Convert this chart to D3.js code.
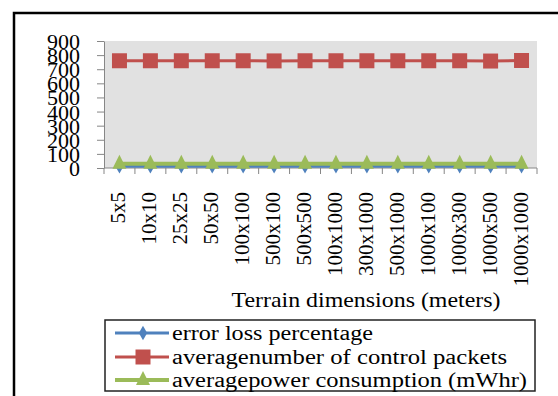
<!DOCTYPE html>
<html>
<head>
<meta charset="utf-8">
<script src="https://cdn.jsdelivr.net/npm/d3@7"></script>
<style>
  html, body { margin: 0; padding: 0; background: #fff; }
  svg { display: block; }
  text { font-family: "Liberation Serif", "Times New Roman", serif; fill: #000; }
</style>
</head>
<body>
<svg id="chart" width="558" height="396"></svg>
<script>
// Terrain sizes tested (x categories)
const terrains = ["5x5", "10x10", "25x25", "50x50", "100x100", "500x100", "500x500",
  "100x1000", "300x1000", "500x1000", "1000x100", "1000x300", "1000x500", "1000x1000"];

// Measured series
const errorLoss    = [12, 12, 12, 12, 12, 12, 12, 12, 12, 12, 12, 12, 12, 12];
const controlPkts  = [760, 760, 760, 760, 760, 759, 760, 760, 760, 760, 760, 760, 758, 762];
const powerUse     = [30, 30, 30, 30, 30, 30, 30, 30, 30, 30, 30, 30, 30, 30];

const yTicks = [0, 100, 200, 300, 400, 500, 600, 700, 800, 900];

const seriesNames = ["error loss percentage", "averagenumber of control packets",
  "averagepower consumption (mWhr)"];
const seriesColors = ["#4f81bd", "#c0504d", "#9bbb59"];
const seriesShapes = ["diamond", "square", "triangle"];

const series = [errorLoss, controlPkts, powerUse].map((vals, i) => ({
  name: seriesNames[i], color: seriesColors[i], shape: seriesShapes[i], values: vals
}));

const svg = d3.select("#chart");

// outer frame
svg.append("rect")
  .attr("x", 14).attr("y", 13).attr("width", 600).attr("height", 420)
  .attr("fill", "none").attr("stroke", "#000").attr("stroke-width", 2.5);

const plot = { left: 104, right: 537, top: 41, bottom: 168 };

const x = d3.scaleBand().domain(terrains).range([plot.left, plot.right]);
const y = d3.scaleLinear().domain([0, 900]).range([plot.bottom, plot.top]);

// plot background
svg.append("rect")
  .attr("x", plot.left).attr("y", plot.top)
  .attr("width", plot.right - plot.left).attr("height", plot.bottom - plot.top)
  .attr("fill", "#e1e1e1");

// y axis (large labels set tightly on the 100-step ticks)
const yAxis = svg.append("g").attr("transform", `translate(${plot.left},0)`)
  .call(d3.axisLeft(y).tickValues(yTicks).tickSize(7).tickSizeOuter(0).tickFormat(""));
yAxis.selectAll("path, line").attr("stroke", "#868686");
yAxis.selectAll(".tick").append("text")
  .attr("x", -24)
  .attr("text-anchor", "end")
  .attr("dominant-baseline", "central")
  .attr("font-size", 22)
  .text(d => d);

// x axis with ticks at category boundaries
const xAxisG = svg.append("g").attr("transform", `translate(0,${plot.bottom})`);
xAxisG.append("line")
  .attr("x1", plot.left).attr("x2", plot.right)
  .attr("stroke", "#868686");
const bounds = terrains.map(t => x(t)).concat([plot.right]);
xAxisG.selectAll("line.tick").data(bounds).join("line")
  .attr("class", "tick")
  .attr("x1", d => d).attr("x2", d => d).attr("y1", 0).attr("y2", 6)
  .attr("stroke", "#868686");
xAxisG.selectAll("text.lbl").data(terrains).join("text")
  .attr("class", "lbl")
  .attr("transform", d => `translate(${x(d) + x.bandwidth() / 2 - 1},24) rotate(-90)`)
  .attr("text-anchor", "end")
  .attr("dominant-baseline", "central")
  .attr("font-size", 21)
  .text(d => d);

// axis title
svg.append("text")
  .attr("x", 366).attr("y", 307)
  .attr("text-anchor", "middle")
  .attr("font-size", 22)
  .attr("textLength", 269).attr("lengthAdjust", "spacingAndGlyphs")
  .text("Terrain dimensions (meters)");

// marker shapes
function markerPath(shape) {
  if (shape === "diamond") return d3.symbol(d3.symbolDiamond, 60)();
  if (shape === "square") return "M-7.5,-7.5H7.5V7.5H-7.5Z";
  return "M0,-9L7,5H-7Z";
}
const lineWidths = { diamond: 3, square: 3, triangle: 4 };

const cx = d => x(d) + x.bandwidth() / 2;
const line = d3.line().x((v, i) => cx(terrains[i])).y(v => y(v));

series.forEach(s => {
  const g = svg.append("g");
  g.append("path")
    .attr("d", line(s.values))
    .attr("fill", "none")
    .attr("stroke", s.color)
    .attr("stroke-width", lineWidths[s.shape]);
  g.selectAll("path.m").data(s.values).join("path")
    .attr("class", "m")
    .attr("transform", (v, i) => `translate(${cx(terrains[i])},${y(v)})`)
    .attr("d", markerPath(s.shape))
    .attr("fill", s.color);
});

// legend
const legend = svg.append("g");
legend.append("rect")
  .attr("x", 105).attr("y", 320).attr("width", 430).attr("height", 71)
  .attr("fill", "#fff").attr("stroke", "#222").attr("stroke-width", 1.5);
const legendRowY = [333, 357, 380];
const legendTextLen = [201, 335, 355];
series.forEach((s, i) => {
  const row = legend.append("g").attr("transform", `translate(0,${legendRowY[i]})`);
  row.append("line").attr("x1", 115).attr("x2", 169)
    .attr("stroke", s.color).attr("stroke-width", lineWidths[s.shape]);
  row.append("path").attr("transform", "translate(143,0)")
    .attr("d", markerPath(s.shape)).attr("fill", s.color);
  row.append("text")
    .attr("x", 172).attr("y", 0)
    .attr("dominant-baseline", "central")
    .attr("font-size", 20)
    .attr("textLength", legendTextLen[i]).attr("lengthAdjust", "spacingAndGlyphs")
    .text(s.name);
});
</script>
</body>
</html>
